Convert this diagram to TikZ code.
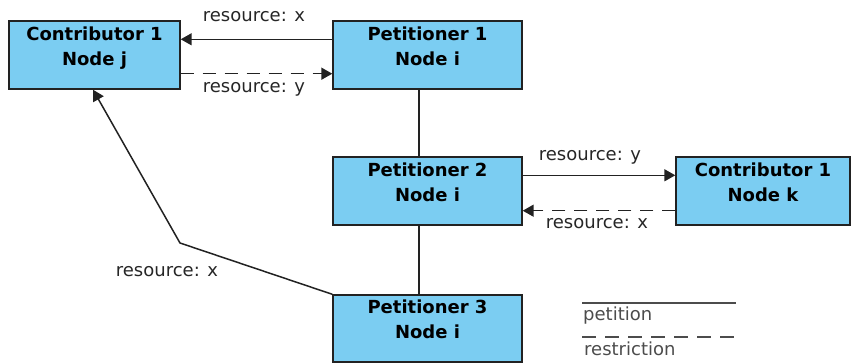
\documentclass[tikz,border=0pt]{standalone}
\usepackage{fontspec}
\setmainfont{DejaVu Sans}
\usetikzlibrary{arrows.meta}
\definecolor{boxfill}{RGB}{123,205,242}
\definecolor{edgegray}{RGB}{34,34,34}
\tikzset{
  nodebox/.style={draw=edgegray, line width=1.4pt, fill=boxfill, rectangle,
    inner sep=0pt, align=center, text depth=18pt,
    font=\fontsize{18}{25}\selectfont\bfseries},
  petition/.style={draw=edgegray, line width=1.5pt},
  restriction/.style={draw=edgegray, line width=1.5pt, dash pattern=on 13pt off 9pt},
  tip/.style={-{Triangle[length=11pt,width=12pt]}},
  lbl/.style={font=\fontsize{18}{21}\selectfont, text=black!85, inner sep=0pt},
  legendline/.style={draw=black!70, line width=1.4pt},
}
\begin{document}
\begin{tikzpicture}[x=1pt,y=-1pt]
  \useasboundingbox (0,0) rectangle (851,363);

  % nodes
  \node[nodebox, minimum width=171pt, minimum height=68pt] (cj) at (94.5,55) {Contributor 1\\Node j};
  \node[nodebox, minimum width=189pt, minimum height=68pt] (p1) at (427.5,55) {Petitioner 1\\Node i};
  \node[nodebox, minimum width=189pt, minimum height=68pt] (p2) at (427.5,191) {Petitioner 2\\Node i};
  \node[nodebox, minimum width=174pt, minimum height=68pt] (ck) at (763,191) {Contributor 1\\Node k};
  \node[nodebox, minimum width=189pt, minimum height=67pt] (p3) at (427.5,328.5) {Petitioner 3\\Node i};

  % petitioner chain
  \draw[petition] ([xshift=-8.5pt]p1.south) -- ([xshift=-8.5pt]p2.north);
  \draw[petition] ([xshift=-8.5pt]p2.south) -- ([xshift=-8.5pt]p3.north);

  % contributor j exchanges
  \draw[petition, tip] ([yshift=-19pt]p1.north west) -- ([yshift=-19pt]cj.north east)
    node[lbl, midway, xshift=-2.5pt, yshift=23pt] (lx1) {resource: x};
  \draw[restriction, tip] ([yshift=16pt]cj.south east) -- ([yshift=16pt]p1.south west)
    node[lbl, midway, xshift=-2.5pt, yshift=-15.5pt] (ly1) {resource: y};

  % contributor k exchanges
  \draw[petition, tip] ([yshift=-19pt]p2.north east) -- ([yshift=-19pt]ck.north west)
    node[lbl, midway, xshift=-9pt, yshift=18pt] (ly2) {resource: y};
  \draw[restriction, tip] ([yshift=15pt]ck.south west) -- ([yshift=15pt]p2.south east)
    node[lbl, midway, xshift=-2pt, yshift=-12.5pt] (lx2) {resource: x};

  % petitioner 3 to contributor j
  \coordinate (bend) at (180,243);
  \draw[petition, tip] (p3.north west) -- (bend) -- ([xshift=-1.5pt]cj.south);
  \node[lbl] (lx3) at (167,272) {resource: x};

  % legend
  \coordinate (la) at (582,303);
  \coordinate (lb) at (736,303);
  \coordinate (lc) at (582,337);
  \coordinate (ld) at (736,337);
  \draw[legendline] (la) -- (lb);
  \draw[legendline, dash pattern=on 14pt off 9pt] (lc) -- (ld);
  \node[lbl, anchor=west, text=black!70] (lp) at (583,316) {petition};
  \node[lbl, anchor=west, text=black!70] (lr) at (584,349) {restriction};
\end{tikzpicture}
\end{document}
